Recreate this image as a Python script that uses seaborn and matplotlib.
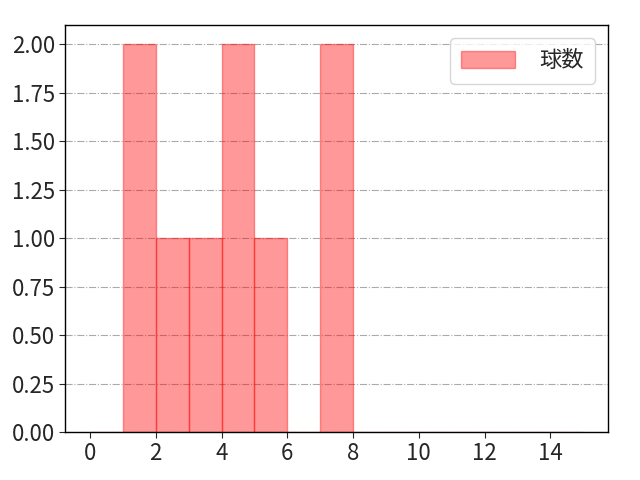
import matplotlib
matplotlib.use("Agg")
import matplotlib.pyplot as plt
import seaborn as sns

values = [1, 1, 2, 3, 4, 4, 5, 7, 7]
bin_edges = list(range(0, 16))
label = "球数"

sns.set_style("white")
plt.rcParams["font.family"] = ["Noto Sans CJK JP", "DejaVu Sans"]

fig, ax = plt.subplots(figsize=(6.4, 4.8), dpi=100)
ax.set_axisbelow(True)
ax.grid(axis="y", linestyle="-.", color="#aaaaaa", linewidth=0.8)

sns.histplot(x=values, bins=bin_edges, color="red", alpha=0.4,
             edgecolor=(1, 0, 0, 0.4), linewidth=1, label=label, ax=ax)

ax.set_xticks([0, 2, 4, 6, 8, 10, 12, 14])
ax.set_yticks([0, 0.25, 0.5, 0.75, 1.0, 1.25, 1.5, 1.75, 2.0])
ax.set_yticklabels([f"{v:.2f}" for v in ax.get_yticks()])
ax.tick_params(labelsize=16, left=True, bottom=True, length=4)
ax.set_xlabel("")
ax.set_ylabel("")
for s in ax.spines.values():
    s.set_color("black")
    s.set_linewidth(1)

ax.legend(loc="upper right", fontsize=16, handlelength=2.4, handleheight=0.8,
          handletextpad=1.1, borderpad=0.5, borderaxespad=0.6)
fig.subplots_adjust(left=0.102, right=0.95, top=0.948, bottom=0.1)
plt.savefig("out.png")
